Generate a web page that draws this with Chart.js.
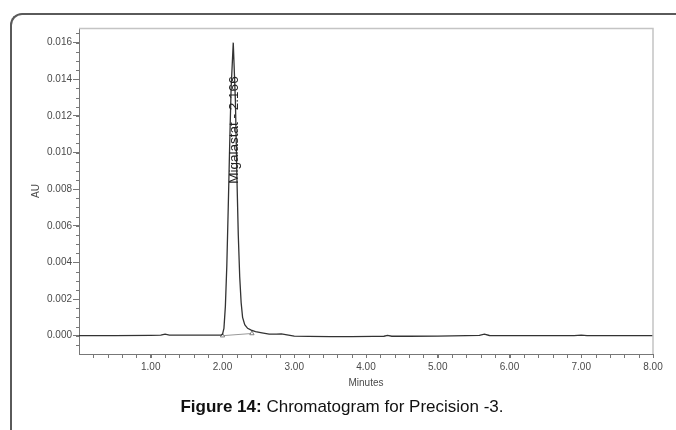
<!DOCTYPE html>
<html>
<head>
<meta charset="utf-8">
<script src="https://cdn.jsdelivr.net/npm/chart.js@4"></script>
<style>
  html, body { margin: 0; padding: 0; background: #fff; }
  body { width: 676px; height: 430px; position: relative; overflow: hidden; font-family: "Liberation Sans", Arial, sans-serif; }
  .frame {
    position: absolute; left: 10px; top: 13px; width: 700px; height: 450px;
    border-left: 2px solid #5a5a5a; border-top: 2px solid #5a5a5a;
    border-top-left-radius: 12px;
  }
  #chart { position: absolute; left: 0; top: 0; }
  .caption {
    position: absolute; left: 0; width: 684px; top: 397px;
    text-align: center; font-size: 17px; color: #111;
  }
</style>
</head>
<body>
<div class="frame"></div>
<canvas id="chart" width="676" height="430"></canvas>
<div class="caption"><b>Figure 14:</b> Chromatogram for Precision -3.</div>

<script>
// retention time (minutes) and detector response (AU)
const timeMin = [0, 0.5, 1.0, 1.14, 1.2, 1.26, 1.6, 1.98, 2.00, 2.02, 2.04, 2.06, 2.08, 2.10, 2.12, 2.15,
  2.18, 2.20, 2.22, 2.24, 2.26, 2.28, 2.31, 2.35, 2.40, 2.46, 2.55, 2.65, 2.75, 2.82, 2.90, 3.00,
  3.20, 3.50, 3.80, 4.10, 4.25, 4.30, 4.36, 4.60, 5.00, 5.40, 5.58, 5.65, 5.72, 6.00, 6.50, 6.90,
  7.00, 7.08, 7.50, 8.00];
const absorbance = [0, 0, 0.00002, 0.00003, 0.00008, 0.00003, 0.00003, 0.00003, 0.00008, 0.0004, 0.0016, 0.0038, 0.0070, 0.0104, 0.0135, 0.0160,
  0.0128, 0.0088, 0.0055, 0.0032, 0.0018, 0.0010, 0.0006, 0.0004, 0.0003, 0.00022, 0.00015, 0.00008, 0.00008, 0.0001, 0.00005, -0.00002,
  -0.00004, -0.00005, -0.00005, -0.00004, -0.00003, 0.00002, -0.00003, -0.00003, -0.00002, 0.0, 0.00002, 0.00008, 0.00001, 0.0, 0.0, 0.0,
  0.00003, 0.0, 0.0, 0.0];

// integration start / end markers and the drop baseline between them
const markTime = [2.00, 2.41];
const markAu = [0.0000, 0.00012];

const peakTime = 2.15;
const peakLabel = 'Migalastat - 2.166';
const peakLabelAu = 0.0083;

const xTickValues = [1, 2, 3, 4, 5, 6, 7, 8];
const yTickValues = [0, 0.002, 0.004, 0.006, 0.008, 0.010, 0.012, 0.014, 0.016];

const axisColor = '#777';
const labelColor = '#4a4a4a';

const toPoints = (xs, ys) => xs.map((x, i) => ({ x: x, y: ys[i] }));

const chromPlugin = {
  id: 'chromPlugin',
  afterDraw(chart) {
    const { ctx, chartArea: a, scales: { x, y } } = chart;
    ctx.save();

    // plot frame top / right
    ctx.strokeStyle = '#c4c4c4';
    ctx.lineWidth = 1.5;
    ctx.beginPath();
    ctx.moveTo(a.left, a.top + 0.5);
    ctx.lineTo(a.right, a.top + 0.5);
    ctx.lineTo(a.right, a.bottom);
    ctx.stroke();

    // minor ticks
    ctx.strokeStyle = axisColor;
    ctx.lineWidth = 1;
    ctx.beginPath();
    for (let v = 0.2; v < 8.001; v += 0.2) {
      const px = Math.round(x.getPixelForValue(v)) + 0.5;
      ctx.moveTo(px, a.bottom);
      ctx.lineTo(px, a.bottom + 4);
    }
    for (let v = -0.0005; v < 0.0168; v += 0.0005) {
      const py = Math.round(y.getPixelForValue(v)) + 0.5;
      ctx.moveTo(a.left - 3, py);
      ctx.lineTo(a.left, py);
    }
    ctx.stroke();

    // peak name
    ctx.translate(x.getPixelForValue(peakTime) + 1, y.getPixelForValue(peakLabelAu));
    ctx.rotate(-Math.PI / 2);
    ctx.fillStyle = '#222';
    ctx.font = '13.5px "Liberation Sans", Arial, sans-serif';
    ctx.textAlign = 'left';
    ctx.textBaseline = 'middle';
    ctx.fillText(peakLabel, 0, 0);
    ctx.restore();
  }
};

const chart = new Chart(document.getElementById('chart'), {
  type: 'line',
  data: {
    datasets: [{
      data: toPoints(timeMin, absorbance),
      borderColor: '#333',
      borderWidth: 1.3,
      pointRadius: 0,
      tension: 0
    }, {
      data: toPoints(markTime, markAu),
      borderColor: '#999',
      borderWidth: 1,
      pointStyle: 'triangle',
      pointRadius: 2.5,
      pointBorderColor: '#666',
      pointBackgroundColor: '#fff',
      pointBorderWidth: 0.8,
      tension: 0
    }]
  },
  options: {
    responsive: false,
    animation: false,
    layout: { padding: { left: 0, right: 23, top: 28, bottom: 0 } },
    plugins: { legend: { display: false }, tooltip: { enabled: false } },
    scales: {
      x: {
        type: 'linear',
        min: 0,
        max: 8,
        afterFit: s => { s.height = 76; },
        afterBuildTicks: s => { s.ticks = xTickValues.map(v => ({ value: v })); },
        grid: { drawOnChartArea: false, tickLength: 4, tickColor: axisColor },
        border: { color: axisColor },
        ticks: {
          padding: 3,
          maxRotation: 0,
          color: labelColor,
          font: { family: '"Liberation Sans", Arial, sans-serif', size: 10 },
          callback: v => Number(v).toFixed(2)
        },
        title: {
          display: true,
          text: 'Minutes',
          color: labelColor,
          padding: { top: 41, bottom: 41 },
          font: { family: '"Liberation Sans", Arial, sans-serif', size: 10 }
        }
      },
      y: {
        min: -0.001,
        max: 0.0168,
        afterFit: s => { s.width = 79; },
        afterBuildTicks: s => { s.ticks = yTickValues.map(v => ({ value: v })); },
        grid: { drawOnChartArea: false, tickLength: 6, tickColor: axisColor },
        border: { color: axisColor },
        ticks: {
          padding: 1,
          color: labelColor,
          font: { family: '"Liberation Sans", Arial, sans-serif', size: 10 },
          callback: v => Number(v).toFixed(3)
        },
        title: {
          display: true,
          text: 'AU',
          color: labelColor,
          padding: { top: 30, bottom: 30 },
          font: { family: '"Liberation Sans", Arial, sans-serif', size: 10 }
        }
      }
    }
  },
  plugins: [chromPlugin]
});
</script>
</body>
</html>
